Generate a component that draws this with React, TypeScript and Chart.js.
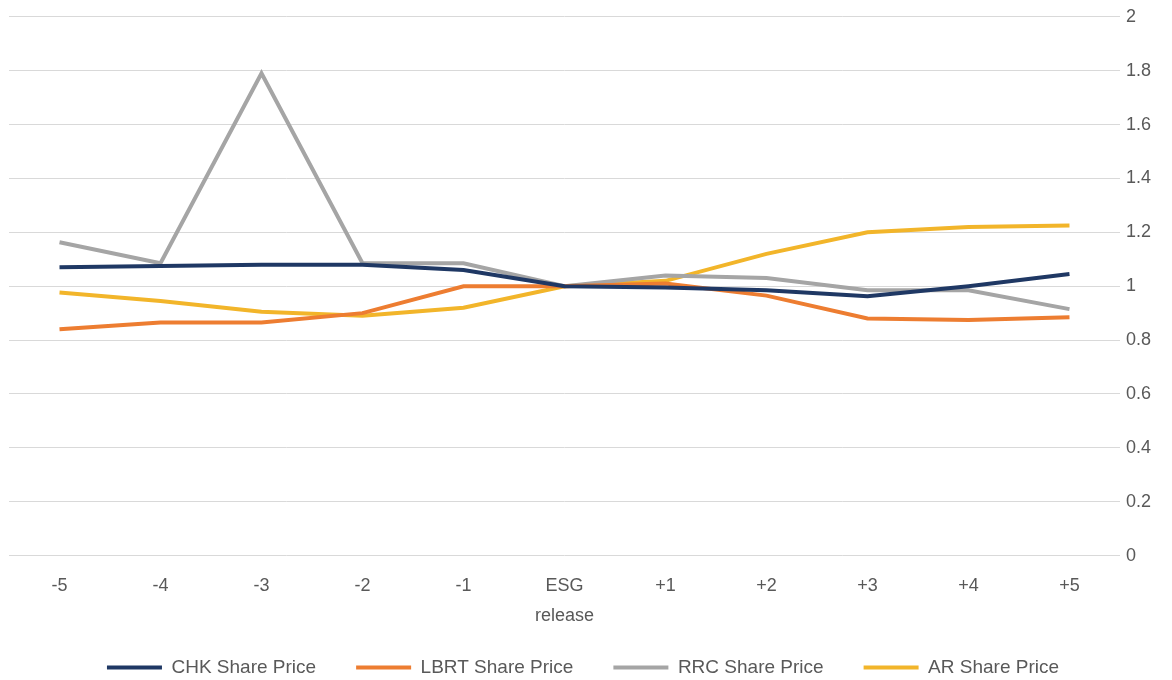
import React, { useEffect, useRef } from "react";
import { Chart, registerables } from "chart.js";

Chart.register(...registerables);

const categories: (string | string[])[] = ["-5", "-4", "-3", "-2", "-1", ["ESG", "release"], "+1", "+2", "+3", "+4", "+5"];
const chk = [1.07, 1.075, 1.08, 1.08, 1.06, 1.0, 0.995, 0.985, 0.963, 1.0, 1.045];
const lbrt = [0.84, 0.865, 0.865, 0.9, 1.0, 1.0, 1.01, 0.965, 0.88, 0.875, 0.885];
const rrc = [1.163, 1.085, 1.79, 1.085, 1.085, 1.0, 1.04, 1.03, 0.985, 0.985, 0.915];
const ar = [0.977, 0.945, 0.905, 0.89, 0.92, 1.0, 1.02, 1.12, 1.2, 1.22, 1.225];
const seriesNames = ["CHK Share Price", "LBRT Share Price", "RRC Share Price", "AR Share Price"];
const seriesColors = ["#1F3864", "#ED7D31", "#A5A5A5", "#F2B52A"];

const FONT = "'Liberation Sans', sans-serif";
const X_SHRINK = 21;

const unclipXLabels = {
  id: "unclipXLabels",
  afterLayout(chart: any) {
    const x = chart.scales.x;
    if (x) x.bottom += X_SHRINK;
  },
};

export default function App() {
  const ref = useRef<HTMLCanvasElement | null>(null);
  useEffect(() => {
    document.body.style.margin = "0";
    const ctx = ref.current!;
    const data = [chk, lbrt, rrc, ar];
    const chart = new Chart(ctx, {
      type: "line",
      data: {
        labels: categories,
        datasets: data.map((d, i) => ({
          label: seriesNames[i],
          data: d,
          borderColor: seriesColors[i],
          backgroundColor: seriesColors[i],
          borderWidth: 4,
          pointRadius: 0,
          pointHoverRadius: 0,
          tension: 0,
          pointStyle: "line",
        })),
      },
      plugins: [unclipXLabels],
      options: {
        animation: false,
        responsive: false,
        maintainAspectRatio: false,
        layout: { padding: { top: 4, left: 9, right: 15, bottom: -7 } },
        plugins: {
          tooltip: { enabled: false },
          legend: {
            position: "bottom",
            labels: {
              usePointStyle: true,
              pointStyleWidth: 55,
              color: "#595959",
              font: { family: FONT, size: 19 },
              padding: 40,
              boxHeight: 19,
            },
          },
        },
        scales: {
          x: {
            offset: true,
            grid: { display: false },
            border: { display: false },
            afterFit: (s: any) => {
              s.height -= X_SHRINK;
            },
            ticks: {
              color: "#595959",
              font: { family: FONT, size: 18, lineHeight: 1.65 },
              maxRotation: 0,
              autoSkip: false,
              padding: 8,
            },
          },
          y: {
            position: "right",
            min: 0,
            max: 2,
            grid: { color: "#D9D9D9", lineWidth: 1, drawTicks: false },
            border: { display: false },
            ticks: {
              stepSize: 0.2,
              color: "#595959",
              font: { family: FONT, size: 18 },
              padding: 6,
              callback: (v: any) => String(Math.round(Number(v) * 10) / 10),
            },
          },
        },
      },
    });
    return () => chart.destroy();
  }, []);
  return (
    <div style={{ width: 1172, height: 680 }}>
      <canvas ref={ref} width={1172} height={680} style={{ width: 1172, height: 680 }} />
    </div>
  );
}
